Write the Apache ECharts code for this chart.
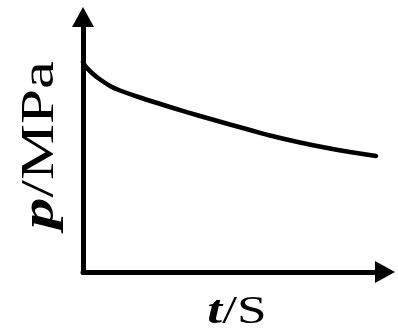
<!DOCTYPE html>
<html>
<head>
<meta charset="utf-8">
<script src="https://cdn.jsdelivr.net/npm/echarts@6/dist/echarts.min.js"></script>
<style>html,body{margin:0;padding:0;background:#fff;}#c{width:398px;height:329px;}</style>
</head>
<body>
<div id="c"></div>
<script>
var timeValues = [0, 0.99, 2.98, 4.97, 9.27, 12.25, 18.87, 28.81, 38.74, 48.68, 55.30, 61.92, 71.85, 81.79, 88.41, 97.02];
var pressureValues = [82.35, 80.39, 78.04, 76.08, 72.75, 71.18, 68.43, 64.71, 61.18, 57.84, 55.69, 53.53, 50.78, 48.43, 47.06, 45.49];
var xAxisTitle = ['t', '/S'];
var yAxisTitle = ['p', '/MPa'];

var seriesData = timeValues.map(function (t, i) { return [t, pressureValues[i]]; });
var font = '"Liberation Serif", "Times New Roman", serif';
function richStyle(size) {
  return {
    i: {fontFamily: font, fontStyle: 'italic', fontWeight: 'bold', fontSize: size, fill: '#000', color: '#000'},
    r: {fontFamily: font, fontSize: size, fill: '#000', color: '#000'}
  };
}
var chart = echarts.init(document.getElementById('c'), null, {renderer: 'canvas'});
chart.setOption({
  animation: false,
  backgroundColor: '#fff',
  grid: {left: 83, right: 13, top: 17, bottom: 57},
  xAxis: {
    type: 'value', min: 0, max: 100,
    axisLine: {lineStyle: {color: '#000', width: 5}, symbol: ['none', 'triangle'], symbolSize: [22, 20]},
    axisTick: {show: false}, axisLabel: {show: false}, splitLine: {show: false}
  },
  yAxis: {
    type: 'value', min: 0, max: 100,
    axisLine: {lineStyle: {color: '#000', width: 5}, symbol: ['none', 'triangle'], symbolSize: [22, 20]},
    axisTick: {show: false}, axisLabel: {show: false}, splitLine: {show: false}
  },
  graphic: [
    {
      type: 'text', x: 41, y: 145, rotation: Math.PI / 2, scaleX: 1.37,
      style: {
        text: '{i|' + yAxisTitle[0] + '}{r|' + yAxisTitle[1] + '}',
        rich: richStyle(46), align: 'center', verticalAlign: 'middle', fill: '#000'
      }
    },
    {
      type: 'text', x: 237, y: 312, scaleX: 1.3,
      style: {
        text: '{i|' + xAxisTitle[0] + '}{r|' + xAxisTitle[1] + '}',
        rich: richStyle(41), align: 'center', verticalAlign: 'middle', fill: '#000'
      }
    }
  ],
  series: [{
    type: 'line', data: seriesData, smooth: 0.3, showSymbol: false,
    lineStyle: {color: '#000', width: 4.5, cap: 'round'}
  }]
});
</script>
</body>
</html>
